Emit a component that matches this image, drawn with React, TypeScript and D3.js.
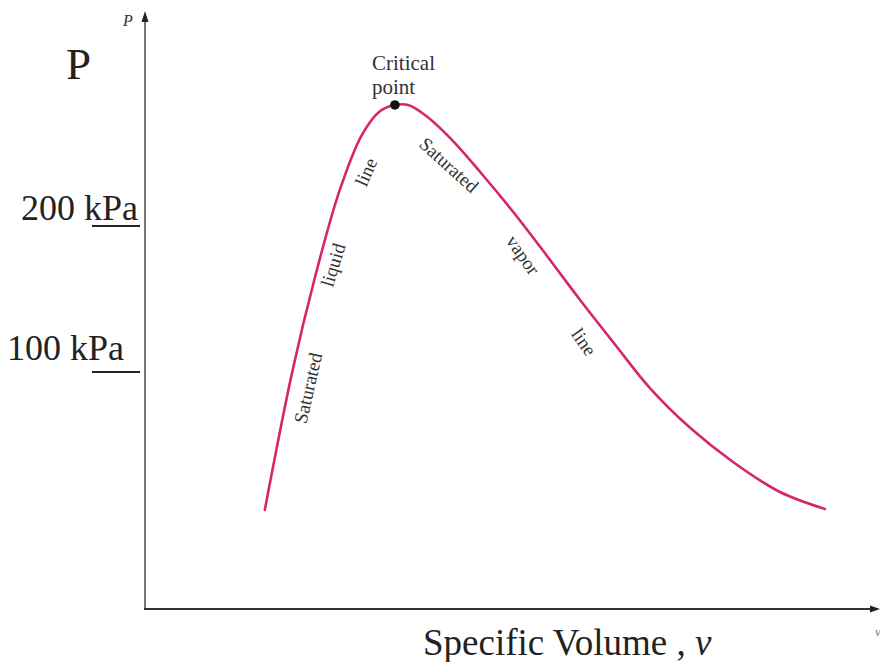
import React from "react";
import * as d3 from "d3";

// Saturation dome: specific volume (arbitrary units) vs pressure (kPa)
const liquidV = [16.3, 20.0, 23.1, 26.5, 29.5, 32.0, 34.0];
const liquidP = [5.5, 99.3, 164.4, 224.7, 262.3, 278.8, 282.9];
const vaporV = [34.0, 35.8, 38.1, 41.5, 45.6, 50.1, 54.7, 59.2, 64.0, 68.7, 74.2, 80.0, 86.4, 92.5];
const vaporP = [282.9, 282.9, 276.0, 260.3, 237.0, 209.6, 179.5, 149.3, 118.5, 89.0, 61.6, 38.4, 17.8, 6.2];
const criticalPoint = { v: 34.0, p: 282.9 };
const yTicks = [200, 100];
const yTickLabels = ["200 kPa", "100 kPa"];

const W = 880;
const H = 662;
const SERIF = "'Liberation Serif', 'DejaVu Serif', serif";

export default function App() {
  const x = d3.scaleLinear().domain([0, 100]).range([145, 880]);
  const y = d3.scaleLinear().domain([0, 300]).range([518, 80]);

  const pts: [number, number][] = [
    ...liquidV.map((v, i) => [v, liquidP[i]] as [number, number]),
    ...vaporV.slice(1).map((v, i) => [v, vaporP[i + 1]] as [number, number]),
  ];
  const line = d3
    .line<[number, number]>()
    .x((d) => x(d[0]))
    .y((d) => y(d[1]))
    .curve(d3.curveCatmullRom.alpha(0.5));

  const axisY0 = 609;
  const axisX0 = x(0);
  const labelColor = "#333";

  const tickLabelX = [138, 124];

  const curveLabels = [
    { text: "Saturated", cx: 308, cy: 388, rot: -77 },
    { text: "liquid", cx: 333, cy: 265, rot: -73 },
    { text: "line", cx: 366, cy: 172, rot: -66 },
    { text: "Saturated", cx: 449, cy: 165, rot: 42 },
    { text: "vapor", cx: 523, cy: 255, rot: 55 },
    { text: "line", cx: 584, cy: 342, rot: 55 },
  ];

  return (
    <svg
      width={W}
      height={H}
      style={{ position: "fixed", left: 0, top: 0, background: "#fff" }}
      fontFamily={SERIF}
    >
      <rect x={0} y={0} width={W} height={H} fill="#fff" />

      {/* Y axis */}
      <line x1={axisX0} y1={18} x2={axisX0} y2={axisY0} stroke="#777" strokeWidth={2} />
      <path d={`M${axisX0 - 3.5},${22} L${axisX0},${11} L${axisX0 + 3.5},${22} Z`} fill="#222" />
      <text x={128} y={26} fontSize={16} fontStyle="italic" fill={labelColor} textAnchor="middle">
        P
      </text>

      {/* X axis */}
      <line x1={axisX0 - 1} y1={axisY0} x2={876} y2={axisY0} stroke="#333" strokeWidth={2} />
      <path d={`M${870},${axisY0 - 3.5} L${880},${axisY0} L${870},${axisY0 + 3.5} Z`} fill="#222" />

      {/* Big P */}
      <text x={66} y={79} fontSize={45} fill="#222">
        P
      </text>

      {/* Y ticks */}
      {yTicks.map((t, i) => (
        <g key={t}>
          <line x1={92} x2={140} y1={y(t)} y2={y(t)} stroke="#222" strokeWidth={2} />
          <text
            x={tickLabelX[i]}
            y={i === 0 ? y(t) - 6 : y(t) - 12}
            fontSize={36}
            fill="#222"
            textAnchor="end"
          >
            {yTickLabels[i]}
          </text>
        </g>
      ))}

      {/* Saturation dome */}
      <path d={line(pts) || ""} fill="none" stroke="#d6246e" strokeWidth={2.6} strokeLinecap="round" />

      {/* Critical point */}
      <circle cx={x(criticalPoint.v)} cy={y(criticalPoint.p)} r={4.8} fill="#111" />
      <text x={372} y={70} fontSize={21} fill={labelColor}>
        Critical
      </text>
      <text x={372} y={94} fontSize={21} fill={labelColor}>
        point
      </text>

      {/* Curve labels */}
      {curveLabels.map((l, i) => (
        <text
          key={i}
          x={l.cx}
          y={l.cy}
          fontSize={19}
          fill={labelColor}
          textAnchor="middle"
          dominantBaseline="central"
          transform={`rotate(${l.rot}, ${l.cx}, ${l.cy})`}
        >
          {l.text}
        </text>
      ))}

      {/* X axis label */}
      <text x={423} y={655} fontSize={37} fill="#222">
        Specific Volume ,{" "}
        <tspan fontStyle="italic">v</tspan>
      </text>
      <text x={875} y={636} fontSize={13} fontStyle="italic" fill="#777">
        v
      </text>
    </svg>
  );
}
